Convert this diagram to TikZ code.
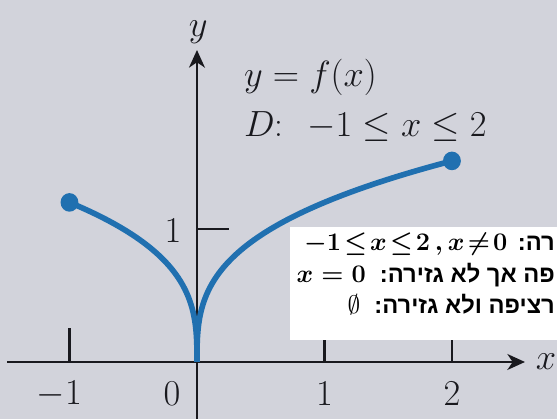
\documentclass[tikz,border=0pt]{standalone}
\usepackage{fontspec}
\usepackage{amsmath}
\usepackage{tikz}
\usetikzlibrary{arrows.meta}
\newfontfamily\hebfont[Script=Hebrew]{Liberation Sans}
\TeXXeTstate=1
\definecolor{paper}{RGB}{210,211,219}
\definecolor{inkdark}{RGB}{25,25,30}
\definecolor{curveblue}{RGB}{32,112,176}
\tikzset{
  axis/.style={-{Stealth[length=10pt, width=9pt, inset=3pt]}, line width=1.6pt, color=inkdark},
  axtick/.style={line width=1.6pt, color=inkdark},
  graph/.style={line width=3.2pt, color=curveblue},
  enddot/.style={fill=curveblue},
  lbl/.style={font=\fontsize{20}{24}\selectfont, color=inkdark, inner sep=1pt},
  note/.style={font=\hebfont\bfseries\fontsize{13.5}{16}\selectfont, anchor=base east, inner sep=0pt}
}

\begin{document}
\begin{tikzpicture}[x=2.55cm, y=2.66cm]
  % Photographed page
  \fill[paper] (-1.545,-0.429) rectangle (2.824,2.722);
  \useasboundingbox (-1.545,-0.429) rectangle (2.824,2.722);

  % Axes
  \draw[axis] (-1.49,0) -- (2.573,0);
  \draw[axis] (0,-0.429) -- (0,2.346);
  \node[lbl] (xlab) at (2.737,0) {$x$};
  \node[lbl] (ylab) at (0.01,2.48) {$y$};

  % Ticks and their labels
  \foreach \t in {-1,1,2}
    \draw[axtick] (\t,0) -- (\t,0.256);
  \draw[axtick] (0,1) -- (0.25,1);
  \node[lbl] (lm1) at (-1.08,-0.24) {$-1$};
  \node[lbl] (l0) at (-0.196,-0.24) {$0$};
  \node[lbl] (l1) at (1.0,-0.24) {$1$};
  \node[lbl] (l2) at (2.0,-0.24) {$2$};
  \node[lbl] (ly1) at (-0.188,0.99) {$1$};

  % Function and its domain
  \node[lbl, anchor=west] (fname) at (0.353,2.143) {$y=f(x)$};
  \node[lbl, anchor=west] (dom) at (0.353,1.767) {$D$:\; $-1\le x\le 2$};

  % Graph: cusp at the origin
  \coordinate (pleft) at (-1,1.2);
  \coordinate (pright) at (2,1.512);
  \draw[graph] plot[domain=1:0, samples=60, smooth] ({-(\x)^3},{1.2*\x})
    -- plot[domain=0:1.26, samples=60, smooth] ({(\x)^3},{1.2*\x});
  \fill[enddot] (pleft) circle (0.07);
  \fill[enddot] (pright) circle (0.07);

  % Answer box pasted over the page (its right side is cut off)
  \fill[white] (0.729,0.165) rectangle (2.824,1.015);
  \node[note] (diff) at (2.81,0.835) {\beginR רה:\hspace{6pt}\beginL{\thickmuskip=2mu\boldmath$-1\le x\le 2\,,x\ne 0$}\endL\endR};
  \node[note] (cont) at (2.81,0.594) {\beginR פה אך לא גזירה:\hspace{8pt}\beginL{\boldmath$x=0$}\endL\endR};
  \node[note] (none) at (2.81,0.361) {\beginR רציפה ולא גזירה:\hspace{8pt}\beginL{$\emptyset$}\endL\endR};
\end{tikzpicture}
\end{document}
